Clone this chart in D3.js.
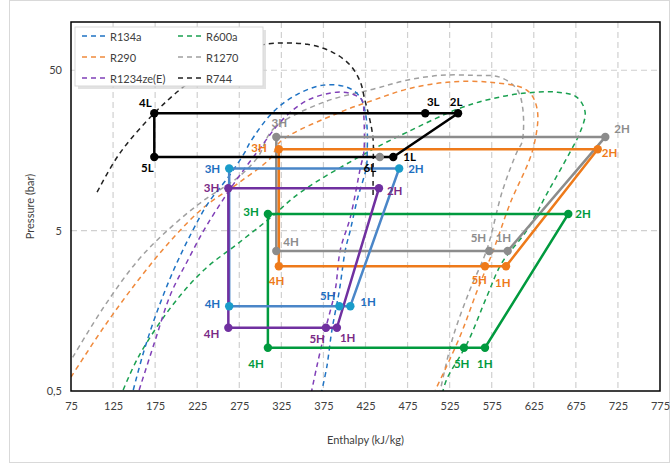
<!DOCTYPE html>
<html><head><meta charset="utf-8">
<script src="https://cdn.jsdelivr.net/npm/d3@7"></script>
<style>body{margin:0;background:#fff;} svg{display:block;font-family:Lato,"Open Sans",sans-serif;}</style>
</head><body>
<svg id="c" width="672" height="464"></svg>
<script>
// ---------- DATA ----------
const xTicks = [75,125,175,225,275,325,375,425,475,525,575,625,675,725,775];
const yTicks = [0.5,5,50];
const yTickLabels = ["0,5","5","50"];
const refrigerants = ["R134a","R600a","R290","R1270","R1234ze(E)","R744"];

// saturation domes [h, P]
const domeR134a = [[149,0.507],[162,0.90],[178,1.60],[197,2.84],[218,4.82],[238,7.42],[262,10.8],[281,15.2],[288,17.8],[315,27.4],[344,35.4],[375,40.4],[403,39.2],[418,34.4],[424,28.6],[427,21.4],[427,15.4],[426,12.4],[415,7.74],[407,5.04],[401,3.78],[394,2.13],[385,1.19],[379,0.706],[373,0.5]];
const domeR1234ze = [[156,0.507],[174,0.995],[194,2.04],[214,3.28],[233,5.04],[253,7.42],[269,9.9],[298,15.9],[327,24.8],[356,32.5],[391,36.5],[410,35.4],[421,32.5],[423,26.2],[423,15.4],[419,12.4],[407,6.07],[395,3.78],[389,2.13],[377,1.19],[367,0.706],[361,0.5]];
const domeR600a = [[137,0.507],[155,0.814],[194,1.67],[233,2.84],[274,4.18],[313,6.07],[348,8.69],[434,16.1],[474,20.5],[534,28.6],[573,33.0],[612,35.9],[653,36.5],[676,34.0],[686,27.4],[680,20.5],[668,15.4],[641,8.57],[617,5.04],[587,3.14],[569,1.93],[546,0.995],[522,0.60],[517,0.5]];
const domeR290 = [[75,0.611],[114,1.25],[155,2.46],[194,4.36],[233,7.0],[274,9.9],[313,14.35],[323,17.8],[395,27.4],[434,32.5],[474,38.1],[522,42.1],[573,42.1],[617,37.5],[629,28.6],[624,16.1],[597,7.42],[577,3.78],[558,2.13],[537,1.085],[508,0.507]];
const domeR1270 = [[77,0.81],[114,1.67],[155,3.28],[194,5.26],[233,7.74],[274,10.8],[297,14.35],[315,21.4],[375,31.6],[434,38.1],[474,43.3],[514,46.5],[553,46.5],[585,45.2],[605,38.1],[612,28.6],[611,17.8],[606,15.9],[588,8.94],[569,3.78],[549,2.13],[529,1.085],[514,0.507]];
const domeR744 = [[106,8.69],[133,15.2],[174,27.0],[208,39.2],[240,51.5],[276,64.7],[306,72.6],[356,72.6],[386,64.7],[407,53.7],[419,42.1],[424,33.0],[430,24.8],[434,18.6],[434,11.9],[434,8.3]];

// cycle state points [label, h, P]
const cycleR134a = [["1H",407,1.69],["2H",465,12.2],["3H",263,12.2],["4H",263,1.69],["5H",394,1.69]];
const cycleR1234ze = [["1H",391,1.24],["2H",441,9.2],["3H",262,9.2],["4H",262,1.24],["5H",378,1.24]];
const cycleR600a = [["1H",567,0.93],["2H",666,6.35],["3H",309,6.35],["4H",309,0.93],["5H",542,0.93]];
const cycleR1270 = [["1H",594,3.73],["2H",710,19.2],["3H",319,19.2],["4H",319,3.73],["5H",572,3.73]];
const cycleR290 = [["1H",592,3.0],["2H",701,16.1],["3H",322,16.1],["4H",322,3.0],["5H",567,3.0]];
const cycleR744 = [["1L",458,14.4],["2L",535,27.0],["3L",496,27.0],["4L",174,27.0],["5L",174,14.4],["6L",442,14.4]];

// ---------- STYLE / LAYOUT ----------
const C = {
  R134a:{dome:"#1f73c4", line:"#4a86c8", dot:"#1a9cc9", text:"#1f6fc0"},
  R1234ze:{dome:"#8040b8", line:"#7030a0", dot:"#7030a0", text:"#7a2a86"},
  R600a:{dome:"#1aa050", line:"#009a3e", dot:"#009a3e", text:"#009a3e"},
  R290:{dome:"#f08a3c", line:"#ee7a1a", dot:"#ee7a1a", text:"#ee7a1a"},
  R1270:{dome:"#a0a0a0", line:"#8c8c8c", dot:"#8c8c8c", text:"#8c8c8c"},
  R744:{dome:"#222", line:"#000", dot:"#000", text:"#000"}
};
// label offsets (px) relative to point: [dx,dy,anchor]
const offs = {
  R134a:{"1H":[10,-5,"start"],"2H":[9,0,"start"],"3H":[-9,0,"end"],"4H":[-9,-3,"end"],"5H":[-4,-11,"end"]},
  R1234ze:{"1H":[3,10,"start"],"2H":[8,2,"start"],"3H":[-9,-1,"end"],"4H":[-9,6,"end"],"5H":[-1,11,"end"]},
  R600a:{"1H":[-8,16,"start"],"2H":[7,0,"start"],"3H":[-9,-2,"end"],"4H":[-4,16,"end"],"5H":[-10,16,"start"]},
  R1270:{"1H":[-12,-14,"start"],"2H":[9,-8,"start"],"3H":[3,-14,"middle"],"4H":[7,-10,"start"],"5H":[-3,-14,"end"]},
  R290:{"1H":[-11,16,"start"],"2H":[4,3,"start"],"3H":[-12,-2,"end"],"4H":[-10,14,"start"],"5H":[2,13,"end"]},
  R744:{"1L":[10,0,"start"],"2L":[-2,-12,"middle"],"3L":[8,-12,"middle"],"4L":[-9,-11,"middle"],"5L":[-7,11,"middle"],"6L":[-10,11,"middle"]}
};

const W=672,H=464;
const pl=71, pr=660, pt=22, pb=391;
const svg=d3.select("#c");
const x=d3.scaleLinear().domain([75,775]).range([pl,pr]);
const y=d3.scaleLog().domain([0.5,100]).range([pb,pt]);

// outer border
svg.append("rect").attr("x",9.5).attr("y",0.5).attr("width",660).attr("height",462)
  .attr("fill","#fff").attr("stroke","#d9d9d9");

// grid
const g=svg.append("g");
g.selectAll(".vg").data(xTicks.slice(1,-1)).join("line")
  .attr("x1",d=>x(d)).attr("x2",d=>x(d)).attr("y1",pt).attr("y2",pb)
  .attr("stroke","#d0d0d0").attr("stroke-width",1.2).attr("stroke-dasharray","6,4");
g.selectAll(".hg").data(yTicks.slice(1)).join("line")
  .attr("y1",d=>y(d)).attr("y2",d=>y(d)).attr("x1",pl).attr("x2",pr)
  .attr("stroke","#d0d0d0").attr("stroke-width",1.2).attr("stroke-dasharray","6,4");

// axes (labels via d3 axes)
const xAxis=d3.axisBottom(x).tickValues(xTicks).tickSize(0).tickPadding(11);
const xa=svg.append("g").attr("transform",`translate(0,${pb})`).call(xAxis);
xa.select(".domain").remove();
xa.selectAll("text").attr("fill","#404040").attr("font-size",11).attr("font-family","Lato,sans-serif");
const yAxis=d3.axisLeft(y).tickValues(yTicks).tickFormat((d,i)=>yTickLabels[i]).tickSize(0).tickPadding(9);
const ya=svg.append("g").attr("transform",`translate(${pl},0)`).call(yAxis);
ya.select(".domain").remove();
ya.selectAll("text").attr("fill","#404040").attr("font-size",11).attr("font-family","Lato,sans-serif");

svg.append("text").attr("x",(pl+pr)/2).attr("y",444).attr("text-anchor","middle")
  .attr("font-size",11).attr("fill","#404040").text("Enthalpy (kJ/kg)");
svg.append("text").attr("transform",`translate(34,${(pt+pb)/2}) rotate(-90)`).attr("text-anchor","middle")
  .attr("font-size",11).attr("fill","#404040").text("Pressure (bar)");

// clip
svg.append("clipPath").attr("id","clip").append("rect").attr("x",pl).attr("y",pt).attr("width",pr-pl).attr("height",pb-pt);

// domes
const dl=d3.line().x(d=>x(d[0])).y(d=>y(d[1])).curve(d3.curveCatmullRom.alpha(0.5));
const domes=[["R1270",domeR1270],["R290",domeR290],["R600a",domeR600a],["R134a",domeR134a],["R1234ze",domeR1234ze],["R744",domeR744]];
const dg=svg.append("g").attr("clip-path","url(#clip)");
domes.forEach(([k,d])=>{
  dg.append("path").attr("d",dl(d)).attr("fill","none").attr("stroke",C[k].dome)
    .attr("stroke-width",1.5).attr("stroke-dasharray","5,4");
});

// cycles
const cycles=[["R1270",cycleR1270],["R290",cycleR290],["R600a",cycleR600a],["R134a",cycleR134a],["R1234ze",cycleR1234ze],["R744",cycleR744]];
const cl=d3.line().x(d=>x(d[1])).y(d=>y(d[2]));
cycles.forEach(([k,d])=>{
  svg.append("path").attr("d",cl([...d,d[0]])).attr("fill","none").attr("stroke",C[k].line).attr("stroke-width",2.5);
});
cycles.forEach(([k,d])=>{
  svg.selectAll(null).data(d).join("circle").attr("cx",p=>x(p[1])).attr("cy",p=>y(p[2])).attr("r",4.2)
    .attr("fill",p=>(k==="R744"&&p[0]==="6L")?"#8c8c8c":C[k].dot);
  svg.selectAll(null).data(d).join("text")
    .attr("x",p=>x(p[1])+offs[k][p[0]][0]).attr("y",p=>y(p[2])+offs[k][p[0]][1])
    .attr("text-anchor",p=>offs[k][p[0]][2]).attr("dominant-baseline","central")
    .attr("font-size",11.5).attr("font-weight","bold").attr("fill",C[k].text).text(p=>p[0]);
});

// frame
svg.append("rect").attr("x",pl).attr("y",pt).attr("width",pr-pl).attr("height",pb-pt)
  .attr("fill","none").attr("stroke","#000").attr("stroke-width",1.5);

// legend
const lg=svg.append("g");
lg.append("rect").attr("x",78).attr("y",30).attr("width",188).attr("height",59).attr("fill","#cfcfcf").attr("opacity",0.6);
lg.append("rect").attr("x",75).attr("y",27).attr("width",188).attr("height",59).attr("fill","#fff").attr("stroke","#d9d9d9");
const legKeys=[["R134a","R134a"],["R600a","R600a"],["R290","R290"],["R1270","R1270"],["R1234ze","R1234ze(E)"],["R744","R744"]];
legKeys.forEach(([k,name],i)=>{
  const cx= i%2===0 ? 82 : 178;
  const cy= [36,57,78][Math.floor(i/2)];
  lg.append("line").attr("x1",cx).attr("x2",cx+24).attr("y1",cy).attr("y2",cy)
    .attr("stroke",C[k].dome).attr("stroke-width",1.5).attr("stroke-dasharray","5,4");
  lg.append("text").attr("x",cx+28).attr("y",cy).attr("dominant-baseline","central")
    .attr("font-size",11).attr("fill","#404040").text(name);
});
</script>
</body></html>
